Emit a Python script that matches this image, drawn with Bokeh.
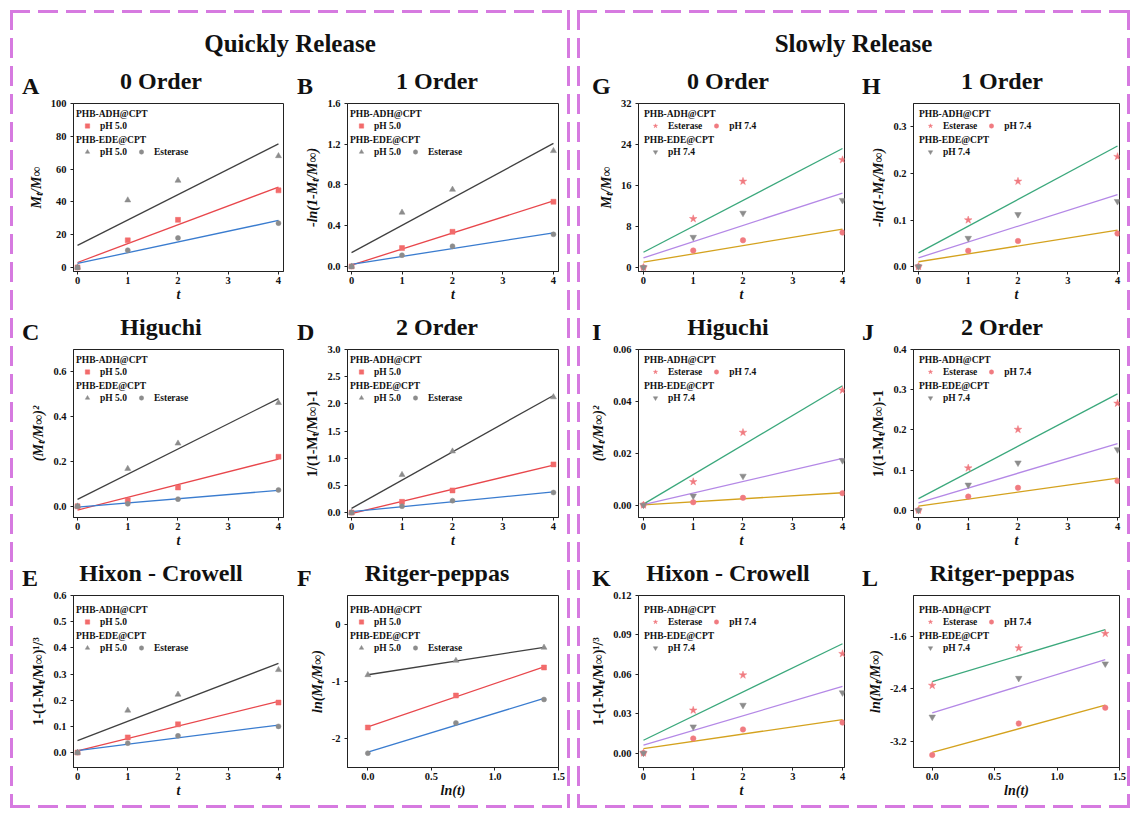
import numpy as np
from bokeh.plotting import figure
from bokeh.models import (Legend, LegendItem, FixedTicker, NumeralTickFormatter,
                          Range1d, Div, Spacer)
from bokeh.layouts import row, column
from bokeh.embed import file_html
from bokeh.resources import INLINE

FONT = "Liberation Serif"

# ------------------------------------------------------------------ data
t_vals = [0, 1, 2, 4]
ln_t = [0.0, 0.693, 1.386]

# Quickly release: PHB-ADH@CPT pH 5.0 | PHB-EDE@CPT pH 5.0 | PHB-EDE@CPT Esterase
A_adh_ph50 = [0, 16.5, 29.0, 47.0]
A_ede_ph50 = [0, 41.0, 53.0, 68.0]
A_ede_est = [0, 10.5, 18.0, 27.0]
B_adh_ph50 = [0, 0.18, 0.34, 0.635]
B_ede_ph50 = [0, 0.53, 0.755, 1.135]
B_ede_est = [0, 0.11, 0.198, 0.315]
C_adh_ph50 = [0, 0.027, 0.084, 0.221]
C_ede_ph50 = [0, 0.168, 0.281, 0.462]
C_ede_est = [0, 0.011, 0.032, 0.073]
D_adh_ph50 = [0, 0.198, 0.408, 0.887]
D_ede_ph50 = [0, 0.695, 1.128, 2.125]
D_ede_est = [0, 0.117, 0.22, 0.37]
E_adh_ph50 = [0, 0.058, 0.108, 0.191]
E_ede_ph50 = [0, 0.161, 0.222, 0.316]
E_ede_est = [0, 0.036, 0.064, 0.100]
F_adh_ph50 = [-1.80, -1.24, -0.75]
F_ede_ph50 = [-0.88, -0.63, -0.40]
F_ede_est = [-2.25, -1.72, -1.31]

# Slowly release: PHB-ADH@CPT Esterase | PHB-ADH@CPT pH 7.4 | PHB-EDE@CPT pH 7.4
G_adh_est = [0, 9.5, 16.8, 21.0]
G_adh_ph74 = [0, 3.3, 5.3, 6.8]
G_ede_ph74 = [0, 5.9, 10.6, 13.1]
H_adh_est = [0, 0.100, 0.183, 0.236]
H_adh_ph74 = [0, 0.034, 0.055, 0.071]
H_ede_ph74 = [0, 0.061, 0.112, 0.140]
I_adh_est = [0, 0.0090, 0.0280, 0.0443]
I_adh_ph74 = [0, 0.0011, 0.0028, 0.0046]
I_ede_ph74 = [0, 0.0035, 0.0112, 0.0172]
J_adh_est = [0, 0.105, 0.201, 0.266]
J_adh_ph74 = [0, 0.034, 0.056, 0.073]
J_ede_ph74 = [0, 0.063, 0.118, 0.151]
K_adh_est = [0, 0.0326, 0.0594, 0.0757]
K_adh_ph74 = [0, 0.0111, 0.0180, 0.0232]
K_ede_ph74 = [0, 0.0200, 0.0365, 0.0460]
L_adh_est = [-2.35, -1.78, -1.56]
L_adh_ph74 = [-3.41, -2.93, -2.69]
L_ede_ph74 = [-2.83, -2.24, -2.02]

# tick positions
t_ticks = [0, 1, 2, 3, 4]
lnt_ticks = [0.0, 0.5, 1.0, 1.5]

# ------------------------------------------------------------------ styles
RED_LINE = "#e8474c"
RED_MK = "#f26b6b"
BLACK_LINE = "#404040"
BLUE_LINE = "#3a7ccf"
GRAY_MK = "#8c8c8c"
GREEN = "#3ba87c"
PURPLE = "#b488e6"
GOLD = "#d4a21e"
PINK_MK = "#f07b80"
DASH_C = "#d67ae0"

HEAD_H = 37
COLS = [  # fig width, border_left, border_right, letter_x, title_center (px in panel)
    (278, 63, 5, 12, 151),
    (282, 59, 12, 9, 149),
    (279, 61, 12, 15, 151),
    (274, 57, 11, 6, 146),
]
ROWS = [  # fig height, border_top, border_bottom   (frame height 172)
    (209, 8, 29),
    (209, 8, 29),
    (221, 8, 41),
]

ML = "M\u209c/M\u221e"
YLABELS = {
    "0": (ML, "bold italic"),
    "1": ("-ln(1-" + ML + ")", "bold italic"),
    "H": ("(" + ML + ")\u00b2", "bold italic"),
    "2": ("1/(1-" + ML + ")-1", "bold"),
    "HC": ("1-(1-" + ML + ")\u00b9/\u00b3", "bold"),
    "RP": ("ln(" + ML + ")", "bold italic"),
}


def style_axis(ax, label, lstyle, ticks, fmt, is_y):
    ax.axis_label = label
    ax.axis_label_text_font = FONT
    ax.axis_label_text_font_size = "14px"
    ax.axis_label_text_font_style = lstyle
    ax.axis_label_text_color = "#111111"
    ax.axis_label_standoff = 4 if is_y else 0
    ax.ticker = FixedTicker(ticks=ticks)
    ax.formatter = NumeralTickFormatter(format=fmt)
    ax.major_label_text_font = FONT
    ax.major_label_text_font_size = "10.5px"
    ax.major_label_text_font_style = "bold"
    ax.major_label_text_color = "#111111"
    ax.major_label_standoff = 4 if is_y else 2
    ax.major_tick_in = 0
    ax.major_tick_out = 3
    ax.minor_tick_line_color = None
    ax.axis_line_color = "#222222"
    ax.major_tick_line_color = "#222222"


def make_legend(title, items, loc):
    return Legend(title=title, items=items, orientation="horizontal", location=loc,
                  title_text_font=FONT, title_text_font_size="9.5px",
                  title_text_font_style="bold", title_text_color="#111111",
                  title_standoff=1,
                  label_text_font=FONT, label_text_font_size="9.5px",
                  label_text_font_style="bold", label_text_color="#111111",
                  label_height=11, glyph_height=11, glyph_width=22,
                  label_standoff=2, spacing=3, padding=1, margin=0,
                  border_line_color=None, background_fill_alpha=0)


def panel_header(letter, title, w, lx, tc):
    html = (f'<div style="position:relative;width:{w}px;height:{HEAD_H}px;'
            f'font-family:\'{FONT}\';font-weight:bold;font-size:24px;line-height:24px;'
            f'color:#111111;white-space:nowrap;">'
            f'<span style="position:absolute;left:{lx}px;top:{HEAD_H - 21}px;">{letter}</span>'
            f'<span style="position:absolute;left:{tc - 100}px;top:{HEAD_H - 26}px;'
            f'width:200px;text-align:center;">{title}</span></div>')
    return Div(text=html, width=w, height=HEAD_H, margin=0)


def make_panel(ci, ri, letter, title, kind, xs, series, yr, yticks, yfmt, side):
    w, bl, br, lx, tcx = COLS[ci]
    h, bt, bb = ROWS[ri]
    if kind == "RP":
        xr = (-0.16, 1.5) if side == "L" else (-0.15, 1.5)
        xticks, xfmt, xlabel = lnt_ticks, "0.0", "ln(t)"
    else:
        xr = (-0.08, 4.1) if side == "L" else (-0.1, 4.04)
        xticks, xfmt, xlabel = t_ticks, "0", "t"
    p = figure(width=w, height=h, x_range=Range1d(*xr), y_range=Range1d(*yr),
               output_backend="svg", toolbar_location=None,
               min_border_left=bl, min_border_right=br,
               min_border_top=bt, min_border_bottom=bb)
    p.title.visible = False
    p.border_fill_color = None
    p.background_fill_color = "white"
    p.outline_line_color = "#222222"
    p.outline_line_width = 1
    p.xgrid.visible = False
    p.ygrid.visible = False
    ylab, ystyle = YLABELS[kind]
    style_axis(p.yaxis[0], ylab, ystyle, yticks, yfmt, True)
    style_axis(p.xaxis[0], xlabel, "bold italic", xticks, xfmt, False)

    rends = []
    for vals, lcol, mcol, marker, size in series:
        k, b = np.polyfit(xs, vals, 1)
        x_end = [xs[0], xs[-1]]
        p.line(x_end, [k * x_end[0] + b, k * x_end[1] + b], line_color=lcol, line_width=1.3)
    for vals, lcol, mcol, marker, size in series:
        r = p.scatter(xs, vals, marker=marker, size=size, fill_color=mcol,
                      line_color=mcol, line_width=0.5)
        rends.append(r)

    if side == "L":
        l1 = make_legend("PHB-ADH@CPT", [LegendItem(label="pH 5.0", renderers=[rends[0]])], (3, 140))
        l2 = make_legend("PHB-EDE@CPT", [LegendItem(label="pH 5.0", renderers=[rends[1]]),
                                         LegendItem(label="Esterase", renderers=[rends[2]])], (3, 114))
    else:
        l1 = make_legend("PHB-ADH@CPT", [LegendItem(label="Esterase", renderers=[rends[0]]),
                                         LegendItem(label="pH 7.4", renderers=[rends[1]])], (6, 140))
        l2 = make_legend("PHB-EDE@CPT", [LegendItem(label="pH 7.4", renderers=[rends[2]])], (6, 114))
    p.add_layout(l1)
    p.add_layout(l2)

    return column(panel_header(letter, title, w, lx, tcx), p)


def left_series(a, b, c):
    return [(a, RED_LINE, RED_MK, "square", 5),
            (b, BLACK_LINE, GRAY_MK, "triangle", 6),
            (c, BLUE_LINE, GRAY_MK, "circle", 5)]


def right_series(a, b, c):
    return [(a, GREEN, PINK_MK, "star", 8),
            (b, GOLD, PINK_MK, "circle", 5.5),
            (c, PURPLE, GRAY_MK, "inverted_triangle", 6.5)]


pA = make_panel(0, 0, "A", "0 Order", "0", t_vals, left_series(A_adh_ph50, A_ede_ph50, A_ede_est),
                (-2.5, 100), [0, 20, 40, 60, 80, 100], "0", "L")
pB = make_panel(1, 0, "B", "1 Order", "1", t_vals, left_series(B_adh_ph50, B_ede_ph50, B_ede_est),
                (-0.05, 1.6), [0, 0.4, 0.8, 1.2, 1.6], "0.0", "L")
pC = make_panel(0, 1, "C", "Higuchi", "H", t_vals, left_series(C_adh_ph50, C_ede_ph50, C_ede_est),
                (-0.05, 0.7), [0, 0.2, 0.4, 0.6], "0.0", "L")
pD = make_panel(1, 1, "D", "2 Order", "2", t_vals, left_series(D_adh_ph50, D_ede_ph50, D_ede_est),
                (-0.09, 3.0), [0, 0.5, 1.0, 1.5, 2.0, 2.5, 3.0], "0.0", "L")
pE = make_panel(0, 2, "E", "Hixon - Crowell", "HC", t_vals, left_series(E_adh_ph50, E_ede_ph50, E_ede_est),
                (-0.057, 0.6), [0, 0.1, 0.2, 0.3, 0.4, 0.5, 0.6], "0.0", "L")
pF = make_panel(1, 2, "F", "Ritger-peppas", "RP", ln_t, left_series(F_adh_ph50, F_ede_ph50, F_ede_est),
                (-2.5, 0.51), [-2, -1, 0], "0", "L")

pG = make_panel(2, 0, "G", "0 Order", "0", t_vals, right_series(G_adh_est, G_adh_ph74, G_ede_ph74),
                (-0.8, 32), [0, 8, 16, 24, 32], "0", "R")
pH = make_panel(3, 0, "H", "1 Order", "1", t_vals, right_series(H_adh_est, H_adh_ph74, H_ede_ph74),
                (-0.0105, 0.35), [0, 0.1, 0.2, 0.3], "0.0", "R")
pI = make_panel(2, 1, "I", "Higuchi", "H", t_vals, right_series(I_adh_est, I_adh_ph74, I_ede_ph74),
                (-0.0048, 0.06), [0, 0.02, 0.04, 0.06], "0.00", "R")
pJ = make_panel(3, 1, "J", "2 Order", "2", t_vals, right_series(J_adh_est, J_adh_ph74, J_ede_ph74),
                (-0.018, 0.4), [0, 0.1, 0.2, 0.3, 0.4], "0.0", "R")
pK = make_panel(2, 2, "K", "Hixon - Crowell", "HC", t_vals, right_series(K_adh_est, K_adh_ph74, K_ede_ph74),
                (-0.011, 0.12), [0, 0.03, 0.06, 0.09, 0.12], "0.00", "R")
pL = make_panel(3, 2, "L", "Ritger-peppas", "RP", ln_t, right_series(L_adh_est, L_adh_ph74, L_ede_ph74),
                (-3.6, -0.98), [-3.2, -2.4, -1.6], "0.0", "R")

DASH = {
    "background-image": (f"linear-gradient(to right, {DASH_C} 72%, transparent 72%), "
                         f"linear-gradient(to right, {DASH_C} 72%, transparent 72%), "
                         f"linear-gradient(to bottom, {DASH_C} 72%, transparent 72%), "
                         f"linear-gradient(to bottom, {DASH_C} 72%, transparent 72%)"),
    "background-position": "left top, left bottom, left top, right top",
    "background-size": "28px 3px, 28px 3px, 3px 28px, 3px 28px",
    "background-repeat": "repeat-x, repeat-x, repeat-y, repeat-y",
}


def header(text, w):
    return Div(text=(f'<div style="width:{w}px;height:48px;text-align:center;padding-top:19px;'
                     f'box-sizing:border-box;font-family:\'{FONT}\';font-weight:bold;'
                     f'font-size:25px;line-height:29px;color:#111111;">{text}</div>'),
               width=w, height=48, margin=0)


left = column(header("Quickly Release", 560), row(pA, pB), row(pC, pD), row(pE, pF), styles=DASH)
right = column(header("Slowly Release", 553), row(pG, pH), row(pI, pJ), row(pK, pL), styles=DASH)
layout = column(Spacer(height=10),
                row(Spacer(width=10), left, Spacer(width=7), right))

open("out.html", "w").write(file_html(layout, INLINE, title="Release kinetics"))
